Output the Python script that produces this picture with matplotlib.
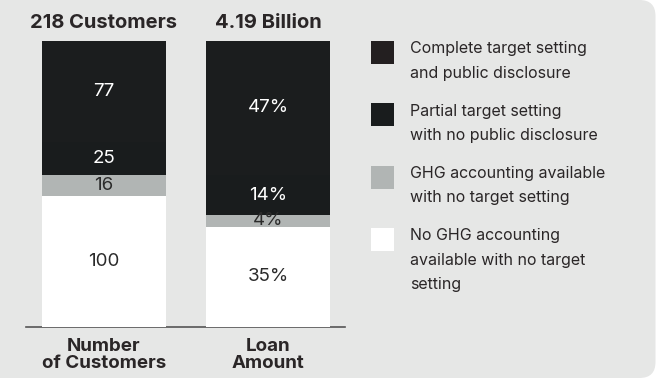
import matplotlib.pyplot as plt
from matplotlib.patches import FancyBboxPatch, Rectangle

plt.rcParams['font.family'] = ['Inter', 'DejaVu Sans']

# bars, bottom segment first
categories = ["Number\nof Customers", "Loan\nAmount"]
headers = ["218 Customers", "4.19 Billion"]
segments = [
    "No GHG accounting\navailable with no target\nsetting",
    "GHG accounting available\nwith no target setting",
    "Partial target setting\nwith no public disclosure",
    "Complete target setting\nand public disclosure",
]
customers = [100, 16, 25, 77]
loan_share = [35, 4, 14, 47]

seg_colors = ["#ffffff", "#b1b5b4", "#191c1d", "#1b1d1e"]
legend_colors = ["#ffffff", "#b1b5b4", "#191c1d", "#231f20"]
label_colors = ["#2b2b2b", "#2b2b2b", "#ffffff", "#ffffff"]
panel_color = "#e6e7e6"
text_color = "#2a2627"

W, H = 657, 379
fig = plt.figure(figsize=(W / 100, H / 100), dpi=100)
fig.patch.set_facecolor("white")

# background panel in pixel coordinates
bg = fig.add_axes([0, 0, 1, 1])
bg.set_xlim(0, W)
bg.set_ylim(H, 0)
bg.axis("off")
bg.add_patch(FancyBboxPatch((-30, 0), 685.5, 378, boxstyle="round,pad=0,rounding_size=16",
                            facecolor=panel_color, edgecolor="none"))

# stacked bars, each normalised to its own total
ax = fig.add_axes([26 / W, (H - 327) / H, (345 - 26) / W, (327 - 40.5) / H])
ax.set_facecolor("none")
width = 0.756
series = [(customers, [str(v) for v in customers]),
          (loan_share, [f"{v}%" for v in loan_share])]
for i, (vals, labels) in enumerate(series):
    total = sum(vals)
    bottom = 0
    for j, (v, lab) in enumerate(zip(vals, labels)):
        h = v / total
        ax.bar(i, h, width=width, bottom=bottom, color=seg_colors[j],
               zorder=3 if j == 0 else 1, linewidth=0)
        ax.text(i, bottom + h / 2, lab, ha="center", va="center", fontsize=13.5,
                color=label_colors[j], zorder=4 if j == 0 else 2)
        bottom += h
    ax.text(i, 1.03, headers[i], ha="center", va="bottom", fontsize=14.5,
            fontweight="bold", color=text_color)
    ax.text(i, -0.04, categories[i], ha="center", va="top", fontsize=13.5,
            fontweight="bold", color=text_color, linespacing=1.0)

ax.set_xlim(-0.4756, 1.4695)
ax.set_ylim(0, 1)
for s in ["top", "right", "left"]:
    ax.spines[s].set_visible(False)
ax.spines["bottom"].set_color("#555555")
ax.spines["bottom"].set_linewidth(1.2)
ax.set_xticks([])
ax.set_yticks([])

# legend, top entry first
for k, j in enumerate(reversed(range(len(segments)))):
    y0 = 41 + 62.3 * k
    bg.add_patch(Rectangle((371, y0), 23, 23, facecolor=legend_colors[j], edgecolor="none"))
    bg.text(410, y0 + 0.5, segments[j], ha="left", va="top", fontsize=11.5,
            color=text_color, linespacing=1.78)

fig.savefig("out.png", dpi=100)
